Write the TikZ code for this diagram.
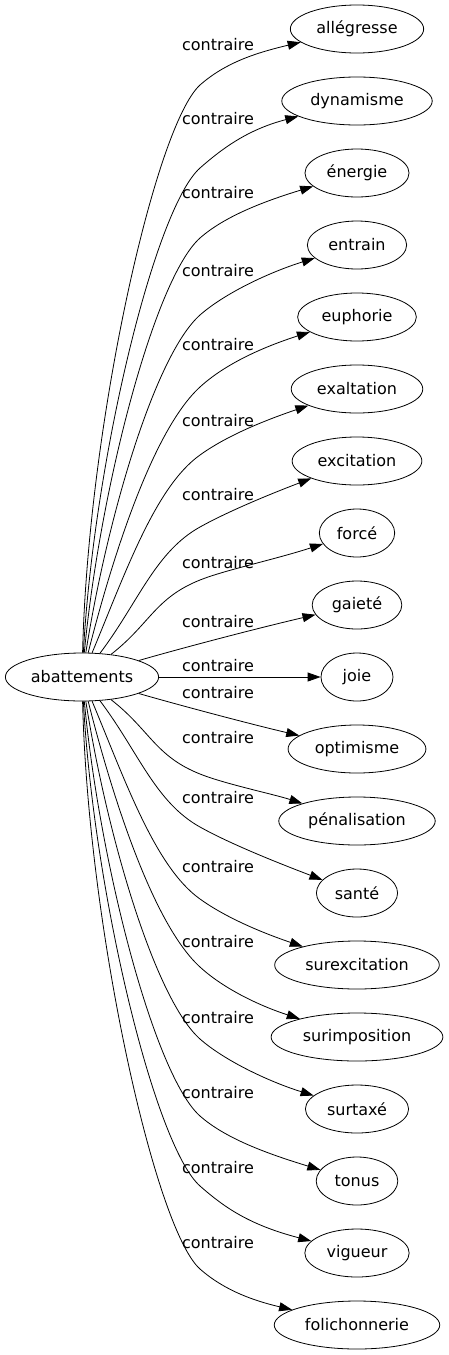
\documentclass[tikz,border=0pt]{standalone}
\usepackage{fontspec}
\setmainfont{DejaVu Sans}
\usetikzlibrary{arrows.meta,shapes.geometric}

\begin{document}
\begin{tikzpicture}[
  x=1pt, y=-1pt, font=\fontsize{16}{19}\selectfont,
  nd/.style={draw, ellipse, line width=0.8pt, minimum width=72pt, minimum height=48pt, inner xsep=6.5pt, inner ysep=2pt},
  lbl/.style={inner sep=1pt},
  con/.style={-{Triangle[length=13pt,width=9pt]}, line width=0.8pt}
]
\useasboundingbox (0,0) rectangle (448,1355);
% ---------------- source ----------------
\node[nd, inner xsep=3pt] (abat) at (82,677) {abattements};
% ---------------- targets ----------------
\node[nd] (allegresse) at (357,29) {allégresse};
\node[nd] (dynamisme) at (357,101) {dynamisme};
\node[nd] (energie) at (357,173) {énergie};
\node[nd] (entrain) at (357,245) {entrain};
\node[nd] (euphorie) at (357,317) {euphorie};
\node[nd] (exaltation) at (357,389) {exaltation};
\node[nd] (excitation) at (357,461) {excitation};
\node[nd] (force) at (357,533) {forcé};
\node[nd] (gaiete) at (357,605) {gaieté};
\node[nd] (joie) at (357,677) {joie};
\node[nd] (optimisme) at (357,749) {optimisme};
\node[nd] (penal) at (357,821) {pénalisation};
\node[nd] (sante) at (357,893) {santé};
\node[nd] (surexc) at (357,965) {surexcitation};
\node[nd] (surimp) at (357,1037) {surimposition};
\node[nd] (surtaxe) at (357,1109) {surtaxé};
\node[nd] (tonus) at (357,1181) {tonus};
\node[nd] (vigueur) at (357,1253) {vigueur};
\node[nd] (folich) at (357,1325) {folichonnerie};
% ---------------- labels ----------------
\node[lbl] (l1) at (218,45) {contraire};
\node[lbl] (l2) at (218,119) {contraire};
\node[lbl] (l3) at (218,193) {contraire};
\node[lbl] (l4) at (218,271) {contraire};
\node[lbl] (l5) at (218,345) {contraire};
\node[lbl] (l6) at (218,421) {contraire};
\node[lbl] (l7) at (218,495) {contraire};
\node[lbl] (l8) at (218,563) {contraire};
\node[lbl] (l9) at (218,622) {contraire};
\node[lbl] (l10) at (218,666) {contraire};
\node[lbl] (l11) at (218,693) {contraire};
\node[lbl] (l12) at (218,738) {contraire};
\node[lbl] (l13) at (218,798) {contraire};
\node[lbl] (l14) at (218,867) {contraire};
\node[lbl] (l15) at (218,942) {contraire};
\node[lbl] (l16) at (218,1018) {contraire};
\node[lbl] (l17) at (218,1093) {contraire};
\node[lbl] (l18) at (218,1168) {contraire};
\node[lbl] (l19) at (218,1243) {contraire};
% ---------------- edges, upper half ----------------
\draw[con] (abat) .. controls (88,426) and (155,126) .. (200,85)
                  .. controls (225,63) and (255,53) .. (allegresse);
\draw[con] (abat) .. controls (94,459) and (155,208) .. (200,168)
                  .. controls (225,146) and (250,129) .. (dynamisme);
\draw[con] (abat) .. controls (100,487) and (155,278) .. (200,238)
                  .. controls (225,216) and (265,201) .. (energie);
\draw[con] (abat) .. controls (107,518) and (155,355) .. (200,315)
                  .. controls (225,293) and (270,272) .. (entrain);
\draw[con] (abat) .. controls (115,547) and (155,428) .. (200,387)
                  .. controls (225,364) and (263,347) .. (euphorie);
\draw[con] (abat) .. controls (125,574) and (155,487) .. (200,455)
                  .. controls (225,437) and (260,422) .. (exaltation);
\draw[con] (abat) .. controls (138,603) and (155,552) .. (200,527)
                  .. controls (225,513) and (265,496) .. (excitation);
\draw[con] (abat) .. controls (150,624) and (155,598) .. (200,580)
                  .. controls (225,570) and (273,560) .. (force);
\draw[con] (abat) .. controls (175,650) and (250,630) .. (gaiete);
\draw[con] (abat) -- (joie);
% ---------------- edges, lower half ----------------
\draw[con] (abat) .. controls (175,704) and (250,724) .. (optimisme);
\draw[con] (abat) .. controls (150,730) and (155,756) .. (200,774)
                  .. controls (225,784) and (273,794) .. (penal);
\draw[con] (abat) .. controls (138,751) and (155,802) .. (200,827)
                  .. controls (225,841) and (265,858) .. (sante);
\draw[con] (abat) .. controls (125,780) and (155,867) .. (200,899)
                  .. controls (225,917) and (260,932) .. (surexc);
\draw[con] (abat) .. controls (115,807) and (155,926) .. (200,967)
                  .. controls (225,990) and (263,1007) .. (surimp);
\draw[con] (abat) .. controls (107,836) and (155,999) .. (200,1039)
                  .. controls (225,1061) and (270,1082) .. (surtaxe);
\draw[con] (abat) .. controls (100,867) and (155,1076) .. (200,1116)
                  .. controls (225,1138) and (265,1153) .. (tonus);
\draw[con] (abat) .. controls (94,895) and (155,1146) .. (200,1186)
                  .. controls (225,1208) and (250,1225) .. (vigueur);
\draw[con] (abat) .. controls (88,928) and (155,1229) .. (200,1269)
                  .. controls (225,1291) and (255,1301) .. (folich);
\end{tikzpicture}
\end{document}
